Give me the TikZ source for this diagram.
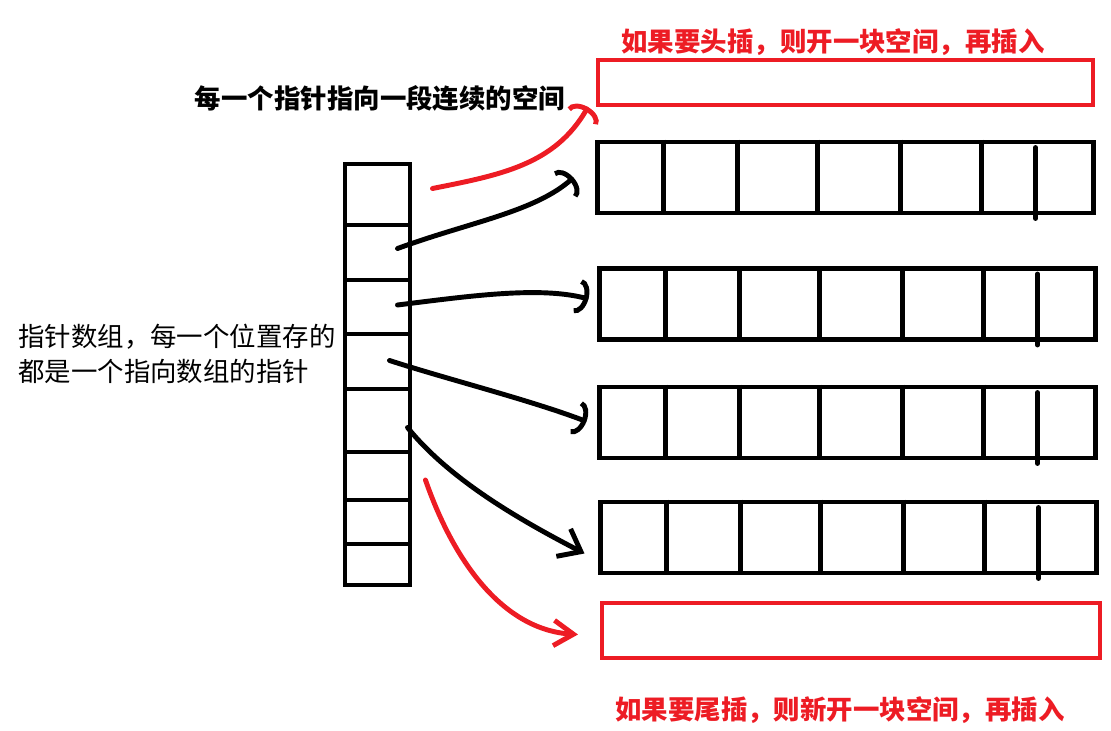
\documentclass[tikz,border=0pt]{standalone}
\usepackage{fontspec}
\setmainfont{Noto Sans CJK SC}
\usetikzlibrary{arrows.meta,calc}
\definecolor{paintred}{RGB}{237,28,36}

\begin{document}
\begin{tikzpicture}
  [x=0.025cm,y=-0.025cm,
   pcell/.style={draw=black,line width=3.5pt,minimum width=1.625cm,inner sep=0pt},
   block/.style={draw=black,line width=3.5pt,minimum width=12.375cm,minimum height=1.775cm,inner sep=0pt},
   newblock/.style={draw=paintred,line width=2.8pt,inner sep=0pt},
   ptr/.style={line width=3.5pt,line cap=round,-{Arc Barb[length=8pt,width=25pt]}},
   label/.style={inner sep=0pt,font=\fontsize{18.8}{25}\selectfont}]
  \useasboundingbox (0,0) rectangle (1111,730);

  % pointer array
  \foreach \i/\t/\b in {1/164/225, 2/225/280, 3/280/334, 4/334/389, 5/389/452, 6/452/500, 7/500/544, 8/544/585}
    \node[pcell,minimum height={(\b-\t)*0.025cm}] (p\i) at (377.5,{(\t+\b)/2}) {};

  % the arrays
  \node[block] (a1) at (845.5,177.5) {};
  \node[block] (a2) at (847.5,304) {};
  \node[block] (a3) at (847.5,422.5) {};
  \node[block] (a4) at (848.5,537.5) {};
  \foreach \a in {a1,a2,a3,a4} {
    \foreach \d in {68,142,222,305,386}
      \draw[line width=3.5pt] ([shift={(\d,0)}]\a.north west) -- ([shift={(\d,0)}]\a.south west);
    \draw[line width=3.5pt,line cap=round] ([shift={(440,8)}]\a.north west) -- ([shift={(440,3)}]\a.south west);
  }

  \node[newblock,minimum width=12.375cm,minimum height=1.125cm] (h) at (845.5,82.5) {};
  \node[newblock,minimum width=12.45cm,minimum height=1.375cm] (t) at (851,630.5) {};

  \node[label,text=paintred,font=\fontsize{18.8}{25}\selectfont\bfseries] (hl) at (833,42) {如果要头插，则开一块空间，再插入};
  \node[label,font=\fontsize{18.8}{25}\selectfont\bfseries] (bl) at (380,98) {每一个指针指向一段连续的空间};
  \node[label,anchor=west,align=left] (pl) at (18,354) {指针数组，每一个位置存的\\都是一个指向数组的指针};
  \node[label,text=paintred,font=\fontsize{18.8}{25}\selectfont\bfseries,anchor=west] (tl) at (615,710) {如果要尾插，则新开一块空间，再插入};

  \draw[ptr] ($(p2.center)+(20,-4)$) .. controls (470,222) and (535,212) .. ($(a1.west)+(-22,0)$);
  \draw[ptr] ($(p3.center)+(20,-2)$) .. controls (470,296) and (540,286) .. ($(a2.west)+(-9,-5)$);
  \draw[ptr] ($(p4.center)+(12,-1)$) .. controls (450,380) and (530,400) .. ($(a3.west)+(-11,-1)$);
  \draw[ptr,-{Straight Barb[length=14pt,width=22pt]}] ($(p5.center)+(30,7)$) .. controls (450,480) and (520,520) .. ($(a4.west)+(-14,16)$);
  \draw[ptr,paintred] ($(p1.east)+(20,-6)$) .. controls (500,175) and (555,165) .. ($(h.south west)+(-8,0)$);
  \draw[ptr,paintred,-{Straight Barb[length=14pt,width=18pt]}] ($(p6.east)+(13,4)$) .. controls (455,565) and (505,630) .. ($(t.west)+(-22,4)$);

\end{tikzpicture}
\end{document}
